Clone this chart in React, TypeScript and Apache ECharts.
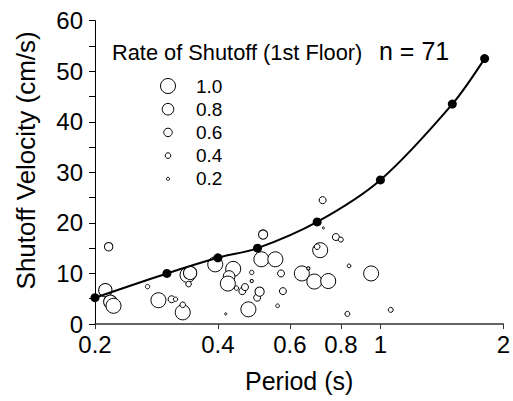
import React, { useEffect, useRef } from "react";
import * as echarts from "echarts";

// Fitted curve (Period s, Shutoff velocity cm/s)
const curvePeriods = [0.2, 0.3, 0.4, 0.5, 0.7, 1.0, 1.5, 1.8];
const curveVelocities = [5.2, 10.0, 13.1, 15.0, 20.2, 28.5, 43.5, 52.5];

// Observations: period, velocity, rate of shutoff
const obsPeriods = [
  0.216, 0.212, 0.218, 0.222, 0.269, 0.286, 0.308, 0.315, 0.328, 0.328,
  0.337, 0.342, 0.339, 0.394, 0.436, 0.426, 0.423, 0.444, 0.459, 0.466,
  0.418, 0.475, 0.484, 0.484, 0.499, 0.506, 0.511, 0.516, 0.553, 0.571,
  0.577, 0.56, 0.642, 0.666, 0.689, 0.745, 0.712, 0.7, 0.722, 0.725,
  0.778, 0.8, 0.838, 0.83, 0.949, 1.06,
];
const obsVelocities = [
  15.3, 6.7, 4.4, 3.6, 7.4, 4.7, 4.9, 4.9, 2.3, 3.8,
  9.7, 10.1, 7.9, 11.8, 10.9, 9.4, 8.0, 7.1, 6.5, 7.3,
  2.0, 2.9, 10.2, 8.5, 5.2, 6.4, 12.8, 17.7, 12.8, 10.0,
  6.5, 3.6, 10.0, 11.0, 8.4, 8.5, 14.6, 15.3, 24.5, 19.0,
  17.2, 16.7, 11.5, 2.0, 10.0, 2.8,
];
const obsRates = [
  0.6, 0.9, 0.9, 1.0, 0.3, 1.0, 0.5, 0.3, 1.0, 0.4,
  1.0, 0.9, 0.4, 1.0, 1.0, 0.8, 1.0, 0.3, 0.5, 0.5,
  0.1, 1.0, 0.3, 0.2, 0.5, 0.65, 1.0, 0.65, 1.0, 0.5,
  0.5, 0.25, 1.0, 0.2, 1.0, 1.0, 1.0, 0.4, 0.5, 0.1,
  0.5, 0.35, 0.25, 0.35, 1.0, 0.35,
];

const legendRates = [1.0, 0.8, 0.6, 0.4, 0.2];
const legendLabels = ["1.0", "0.8", "0.6", "0.4", "0.2"];
const xTicks = [0.2, 0.4, 0.6, 0.8, 1, 2];
const legendTitle = "Rate of Shutoff (1st Floor)";
const countText = "n = 71";

const FONT = "Liberation Sans, Arial, sans-serif";

const sizeOf = (r: number) => 1.5 + 13.5 * Math.pow(r, 1.3);

export default function App() {
  const ref = useRef<HTMLDivElement>(null);
  useEffect(() => {
    if (!ref.current) return;
    const chart = echarts.init(ref.current, null, { renderer: "svg" });

    const legendGraphics: any[] = [];
    legendRates.forEach((r, i) => {
      const cy = 86 + i * 23.2;
      legendGraphics.push({
        type: "circle",
        shape: { cx: 168, cy, r: sizeOf(r) / 2 },
        style: { fill: "#fff", stroke: "#000", lineWidth: 1 },
      });
      legendGraphics.push({
        type: "text",
        x: 196,
        y: cy,
        style: {
          text: legendLabels[i],
          font: `19px ${FONT}`,
          fill: "#000",
          verticalAlign: "middle",
        },
      });
    });

    chart.setOption({
      animation: false,
      backgroundColor: "#fff",
      grid: { left: 95, right: 6, top: 20.7, bottom: 77, containLabel: false },
      xAxis: {
        type: "log",
        logBase: 10,
        min: 0.2,
        max: 2,
        name: "Period (s)",
        nameLocation: "middle",
        nameGap: 44,
        nameTextStyle: { fontFamily: FONT, fontSize: 25, color: "#000" },
        axisLine: { show: true, lineStyle: { color: "#333", width: 1.5 } },
        axisTick: {
          show: true,
          length: 5,
          customValues: xTicks,
          lineStyle: { color: "#333", width: 1 },
        },
        minorTick: { show: false },
        splitLine: { show: false },
        axisLabel: {
          customValues: xTicks,
          margin: 8,
          fontFamily: FONT,
          fontSize: 24,
          color: "#000",
          formatter: (v: number) => String(+Number(v).toPrecision(3)),
        },
      },
      yAxis: {
        type: "value",
        min: 0,
        max: 60,
        interval: 10,
        name: "Shutoff Velocity (cm/s)",
        nameLocation: "middle",
        nameGap: 56,
        nameTextStyle: {
          fontFamily: FONT,
          fontSize: 26,
          color: "#000",
          padding: [0, 0, 0, 24],
        },
        axisLine: { show: true, lineStyle: { color: "#000", width: 1 } },
        axisTick: { show: true, length: 6, lineStyle: { color: "#000" } },
        minorTick: { show: true, splitNumber: 2, length: 6, lineStyle: { color: "#000" } },
        splitLine: { show: false },
        axisLabel: { margin: 12, fontFamily: FONT, fontSize: 24, color: "#000" },
      },
      graphic: [
        {
          type: "text",
          x: 112,
          y: 52,
          style: {
            text: legendTitle,
            font: `21.8px ${FONT}`,
            fill: "#000",
            verticalAlign: "middle",
          },
        },
        {
          type: "text",
          x: 379,
          y: 51,
          style: {
            text: countText,
            font: `25px ${FONT}`,
            fill: "#000",
            verticalAlign: "middle",
          },
        },
        ...legendGraphics,
      ],
      series: [
        {
          type: "scatter",
          data: obsPeriods.map((p, i) => [p, obsVelocities[i], obsRates[i]]),
          symbol: "circle",
          symbolSize: (d: number[]) => sizeOf(d[2]),
          itemStyle: { color: "#fff", borderColor: "#000", borderWidth: 1, opacity: 1 },
          z: 2,
        },
        {
          type: "line",
          data: curvePeriods.map((p, i) => [p, curveVelocities[i]]),
          smooth: 0.3,
          clip: false,
          symbol: "circle",
          symbolSize: 9,
          showSymbol: true,
          lineStyle: { color: "#000", width: 2 },
          itemStyle: { color: "#000", borderColor: "#000", borderWidth: 0 },
          z: 3,
        },
      ],
    });
    return () => chart.dispose();
  }, []);
  return <div ref={ref} style={{ width: 513, height: 401, position: "absolute", left: 0, top: 0 }} />;
}
